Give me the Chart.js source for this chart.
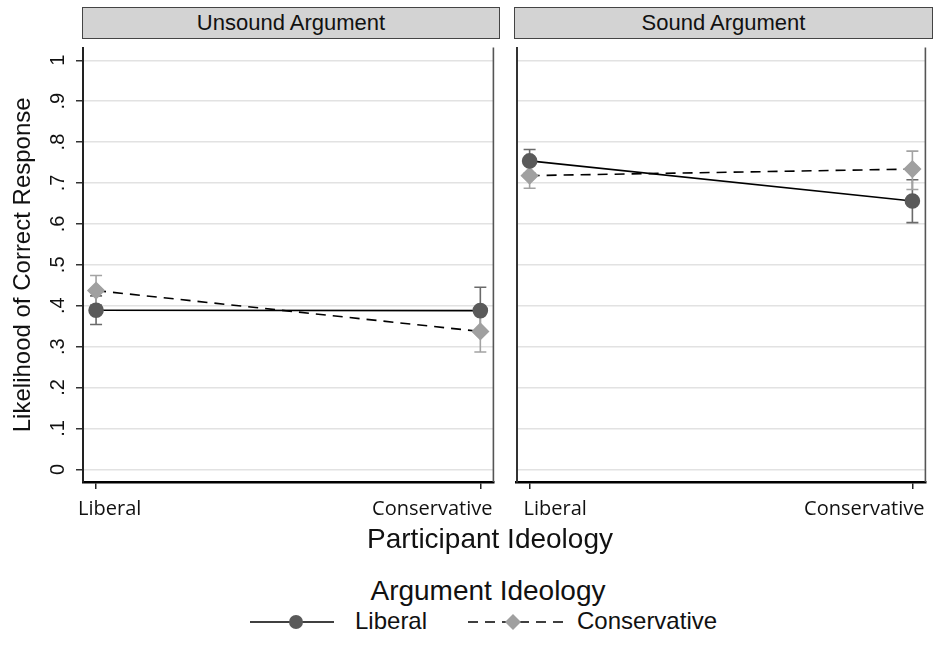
<!DOCTYPE html>
<html>
<head>
<meta charset="utf-8">
<script src="https://cdn.jsdelivr.net/npm/chart.js@4.4.1/dist/chart.umd.min.js"></script>
<style>
    body { margin: 0; width: 935px; height: 646px; background: #fff; position: relative; overflow: hidden;
           font-family: "Liberation Sans", Arial, sans-serif; color: #111; }
    .hdr { position: absolute; top: 7px; height: 32px; box-sizing: border-box; background: #d3d3d3;
           border: 1.5px solid #444; text-align: center; font-size: 22px; line-height: 29px; }
    .cv { position: absolute; top: 38px; }
    .lbl { position: absolute; white-space: nowrap; }
</style>
</head>
<body>
<div class="hdr" id="hdrLeft" style="left:82px;width:418px;"></div>
<div class="hdr" id="hdrRight" style="left:514px;width:419px;"></div>
<canvas id="chartLeft" class="cv" style="left:0px;" width="503" height="490"></canvas>
<canvas id="chartRight" class="cv" style="left:507px;" width="428" height="490"></canvas>

<div class="lbl" id="xTitle" style="left:0;width:980px;top:523px;text-align:center;font-size:28px;"></div>
<div class="lbl" id="legTitle" style="left:0;width:976px;top:575px;text-align:center;font-size:28px;"></div>

<svg class="lbl" style="left:248px;top:612px;" width="90" height="20">
    <line x1="2" y1="10" x2="86" y2="10" stroke="#000" stroke-width="1.6"/>
    <circle cx="48" cy="10" r="7" fill="#5a5a5a"/>
</svg>
<div class="lbl" id="leg0" style="left:355px;top:607px;font-size:24px;"></div>
<svg class="lbl" style="left:466px;top:612px;" width="104" height="20">
    <line x1="2" y1="10" x2="102" y2="10" stroke="#000" stroke-width="1.6" stroke-dasharray="10,7"/>
    <polygon points="47,2 55,10 47,18 39,10" fill="#a0a0a0"/>
</svg>
<div class="lbl" id="leg1" style="left:577px;top:607px;font-size:24px;"></div>

<script>
    // panel and axis text
    const panels = ['Unsound Argument', 'Sound Argument'];
    const participant = ['Liberal', 'Conservative'];
    const argumentGroups = ['Liberal', 'Conservative'];
    const yTicks = [0, 0.1, 0.2, 0.3, 0.4, 0.5, 0.6, 0.7, 0.8, 0.9, 1];

    // Unsound argument panel
    const unsoundLib = [0.389, 0.388];
    const unsoundLibLo = [0.354, 0.335];
    const unsoundLibHi = [0.424, 0.445];
    const unsoundCon = [0.437, 0.337];
    const unsoundConLo = [0.402, 0.287];
    const unsoundConHi = [0.474, 0.388];

    // Sound argument panel
    const soundLib = [0.754, 0.656];
    const soundLibLo = [0.724, 0.603];
    const soundLibHi = [0.782, 0.708];
    const soundCon = [0.718, 0.734];
    const soundConLo = [0.687, 0.684];
    const soundConHi = [0.750, 0.778];

    document.getElementById('hdrLeft').textContent = panels[0];
    document.getElementById('hdrRight').textContent = panels[1];
    document.getElementById('xTitle').textContent = 'Participant Ideology';
    document.getElementById('legTitle').textContent = 'Argument Ideology';
    document.getElementById('leg0').textContent = argumentGroups[0];
    document.getElementById('leg1').textContent = argumentGroups[1];

    function toPoints(vals) {
        return vals.map((v, i) => ({ x: i, y: v }));
    }

    // error bars, panel right edge and x labels
    const panelPlugin = {
        id: 'panelPlugin',
        beforeDatasetsDraw(chart) {
            const ctx = chart.ctx;
            const xs = chart.scales.x, ys = chart.scales.y;
            chart.data.datasets.forEach(ds => {
                ctx.save();
                ctx.strokeStyle = ds.errColor;
                ctx.lineWidth = 1.6;
                ds.errLo.forEach((lo, i) => {
                    const px = xs.getPixelForValue(i);
                    const y1 = ys.getPixelForValue(lo);
                    const y2 = ys.getPixelForValue(ds.errHi[i]);
                    ctx.beginPath();
                    ctx.moveTo(px, y1); ctx.lineTo(px, y2);
                    ctx.moveTo(px - 6, y1); ctx.lineTo(px + 6, y1);
                    ctx.moveTo(px - 6, y2); ctx.lineTo(px + 6, y2);
                    ctx.stroke();
                });
                ctx.restore();
            });
        },
        afterDraw(chart) {
            const ctx = chart.ctx;
            const a = chart.chartArea;
            ctx.save();
            ctx.strokeStyle = '#555';
            ctx.lineWidth = 1.6;
            ctx.beginPath();
            ctx.moveTo(a.right, a.top);
            ctx.lineTo(a.right, a.bottom);
            ctx.stroke();

            ctx.fillStyle = '#111';
            ctx.font = '20px "Open Sans"';
            ctx.textBaseline = 'middle';
            ctx.textAlign = 'left';
            ctx.fillText(participant[0], a.left + chart.options.xLabelShift, a.bottom + 27);
            ctx.textAlign = 'right';
            ctx.fillText(participant[1], a.right - 1, a.bottom + 27);
            ctx.restore();
        }
    };

    function makeChart(id, lib, libLo, libHi, con, conLo, conHi, isLeft) {
        const ctx = document.getElementById(id).getContext('2d');
        return new Chart(ctx, {
            type: 'line',
            data: {
                datasets: [{
                    label: argumentGroups[0],
                    data: toPoints(lib),
                    errLo: libLo, errHi: libHi, errColor: '#6a6a6a',
                    borderColor: '#000',
                    borderWidth: 1.6,
                    pointStyle: 'circle',
                    pointRadius: 7,
                    pointBackgroundColor: '#5a5a5a',
                    pointBorderColor: '#5a5a5a',
                    order: 1
                }, {
                    label: argumentGroups[1],
                    data: toPoints(con),
                    errLo: conLo, errHi: conHi, errColor: '#a3a3a3',
                    borderColor: '#000',
                    borderWidth: 1.6,
                    borderDash: [10, 7],
                    pointStyle: 'rectRot',
                    pointRadius: 8,
                    pointBackgroundColor: '#a0a0a0',
                    pointBorderColor: '#a0a0a0',
                    order: 2
                }]
            },
            options: {
                responsive: false,
                animation: false,
                events: [],
                xLabelShift: isLeft ? -5 : 7,
                layout: { padding: { left: 0, right: isLeft ? 4 : 3, top: 0, bottom: 0 } },
                plugins: { legend: { display: false }, tooltip: { enabled: false } },
                scales: {
                    x: {
                        type: 'linear',
                        min: -0.034,
                        max: 1.034,
                        afterBuildTicks: s => { s.ticks = [{ value: 0 }, { value: 1 }]; },
                        afterFit: s => { s.height = 46; s.paddingLeft = 0; s.paddingRight = 0; },
                        ticks: { display: false },
                        grid: { drawOnChartArea: false, drawTicks: true, tickLength: 7, tickColor: '#222', lineWidth: 1.5 },
                        border: { display: true, color: '#000', width: 2.5 }
                    },
                    y: {
                        min: -0.031,
                        max: 1.031,
                        afterBuildTicks: s => { s.ticks = yTicks.map(v => ({ value: v })); },
                        afterFit: s => { s.width = isLeft ? 83 : 8; s.paddingTop = 0; s.paddingBottom = 0; },
                        ticks: {
                            display: isLeft,
                            minRotation: 90,
                            maxRotation: 90,
                            crossAlign: 'center',
                            padding: 9,
                            color: '#111',
                            font: { family: '"Liberation Sans", Arial, sans-serif', size: 20 },
                            callback: v => v === 0 ? '0' : (v === 1 ? '1' : String(Math.round(v * 10) / 10).replace(/^0/, ''))
                        },
                        title: {
                            display: isLeft,
                            text: 'Likelihood of Correct Response',
                            color: '#111',
                            font: { family: '"Liberation Sans", Arial, sans-serif', size: 24 },
                            padding: { top: 9, bottom: 0 }
                        },
                        grid: {
                            color: '#e2e2e2',
                            lineWidth: 1.5,
                            drawTicks: isLeft,
                            tickLength: 7,
                            tickColor: '#333',
                            tickWidth: 1.5
                        },
                        border: { display: true, color: isLeft ? '#222' : '#333', width: 2 }
                    }
                }
            },
            plugins: [panelPlugin]
        });
    }

    makeChart('chartLeft', unsoundLib, unsoundLibLo, unsoundLibHi, unsoundCon, unsoundConLo, unsoundConHi, true);
    makeChart('chartRight', soundLib, soundLibLo, soundLibHi, soundCon, soundConLo, soundConHi, false);
</script>
</body>
</html>
